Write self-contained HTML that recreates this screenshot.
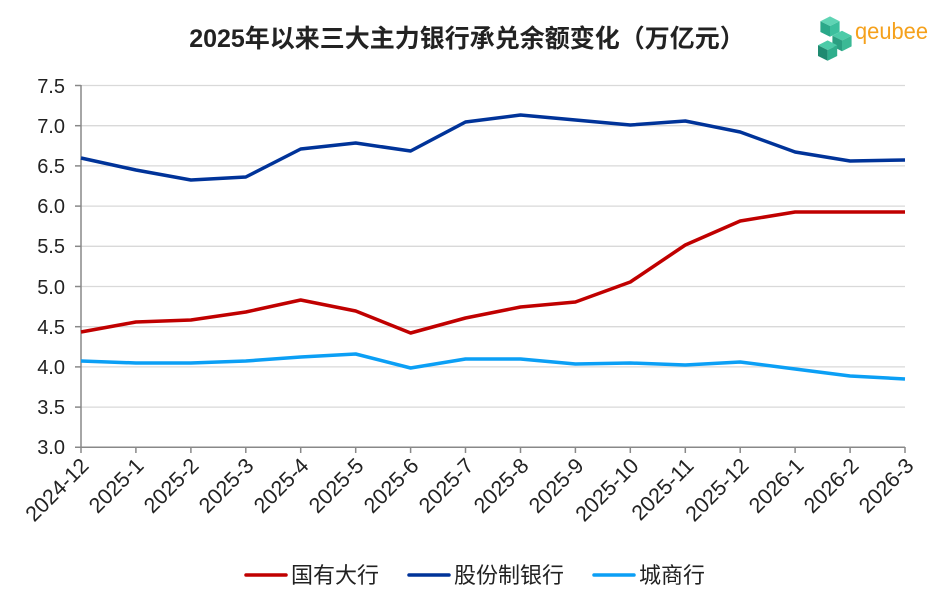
<!DOCTYPE html>
<html><head><meta charset="utf-8"><style>
body{margin:0;background:#fff}
svg text{font-family:"Liberation Sans","Noto Sans CJK SC",sans-serif}
</style></head><body>
<svg width="947" height="609" viewBox="0 0 947 609" xmlns="http://www.w3.org/2000/svg">
<rect width="947" height="609" fill="#fff"/>
<text x="467" y="47" text-anchor="middle" font-size="25" font-weight="bold" fill="#222">2025年以来三大主力银行承兑余额变化（万亿元）</text>
<g transform="translate(818,14) scale(1.2)">
<polygon points="10,2 18,6 10,10 2,6" fill="#5fd4b4"/>
<polygon points="2,6 10,10 10,19 2,15" fill="#2aa889"/>
<polygon points="18,6 10,10 10,19 18,15" fill="#3cbf9d"/>
<polygon points="20,14 28,18 20,22 12,18" fill="#4ccba8"/>
<polygon points="12,18 20,22 20,31 12,27" fill="#2a9f81"/>
<polygon points="28,18 20,22 20,31 28,27" fill="#3bb995"/>
<polygon points="8,22 16,26 8,30 0,26" fill="#4ccba8"/>
<polygon points="0,26 8,30 8,39 0,35" fill="#1f8a70"/>
<polygon points="16,26 8,30 8,39 16,35" fill="#2fae8c"/>
</g>
<text x="855" y="39" font-size="23" fill="#f5a11c" textLength="73" lengthAdjust="spacingAndGlyphs">qeubee</text>
<g stroke="#d9d9d9" stroke-width="1.3">
<line x1="81" x2="905" y1="85.5" y2="85.5"/><line x1="81" x2="905" y1="125.7" y2="125.7"/>
<line x1="81" x2="905" y1="165.9" y2="165.9"/><line x1="81" x2="905" y1="206.1" y2="206.1"/>
<line x1="81" x2="905" y1="246.3" y2="246.3"/><line x1="81" x2="905" y1="286.5" y2="286.5"/>
<line x1="81" x2="905" y1="326.7" y2="326.7"/><line x1="81" x2="905" y1="366.9" y2="366.9"/>
<line x1="81" x2="905" y1="407.1" y2="407.1"/>
</g>
<g stroke="#888" stroke-width="1.5">
<line x1="81" x2="81" y1="85" y2="447"/><line x1="75" x2="905" y1="447.3" y2="447.3"/>
<line x1="75" x2="81" y1="85.5" y2="85.5"/><line x1="75" x2="81" y1="125.7" y2="125.7"/><line x1="75" x2="81" y1="165.9" y2="165.9"/><line x1="75" x2="81" y1="206.1" y2="206.1"/><line x1="75" x2="81" y1="246.3" y2="246.3"/><line x1="75" x2="81" y1="286.5" y2="286.5"/><line x1="75" x2="81" y1="326.7" y2="326.7"/><line x1="75" x2="81" y1="366.9" y2="366.9"/><line x1="75" x2="81" y1="407.1" y2="407.1"/>
<path d="M81 447v6M135.9 447v6M190.9 447v6M245.8 447v6M300.7 447v6M355.7 447v6M410.6 447v6M465.5 447v6M520.5 447v6M575.4 447v6M630.3 447v6M685.3 447v6M740.2 447v6M795.1 447v6M850.1 447v6M905 447v6"/>
</g>
<g font-size="20" fill="#222" text-anchor="end">
<text x="65" y="93">7.5</text><text x="65" y="133">7.0</text><text x="65" y="173">6.5</text><text x="65" y="213">6.0</text><text x="65" y="253">5.5</text><text x="65" y="294">5.0</text><text x="65" y="334">4.5</text><text x="65" y="374">4.0</text><text x="65" y="414">3.5</text><text x="65" y="454">3.0</text>
</g>
<g font-size="21.5" fill="#222" text-anchor="end">
<text transform="translate(90,467) rotate(-45)">2024-12</text>
<text transform="translate(145,467) rotate(-45)">2025-1</text>
<text transform="translate(200,467) rotate(-45)">2025-2</text>
<text transform="translate(255,467) rotate(-45)">2025-3</text>
<text transform="translate(310,467) rotate(-45)">2025-4</text>
<text transform="translate(365,467) rotate(-45)">2025-5</text>
<text transform="translate(420,467) rotate(-45)">2025-6</text>
<text transform="translate(475,467) rotate(-45)">2025-7</text>
<text transform="translate(530,467) rotate(-45)">2025-8</text>
<text transform="translate(585,467) rotate(-45)">2025-9</text>
<text transform="translate(640,467) rotate(-45)">2025-10</text>
<text transform="translate(695,467) rotate(-45)">2025-11</text>
<text transform="translate(750,467) rotate(-45)">2025-12</text>
<text transform="translate(805,467) rotate(-45)">2026-1</text>
<text transform="translate(860,467) rotate(-45)">2026-2</text>
<text transform="translate(915,467) rotate(-45)">2026-3</text>
</g>
<g fill="none" stroke-width="3.5" stroke-linejoin="round">
<polyline stroke="#003399" points="81,158 135.9,170 190.9,180 245.8,177 300.7,149 355.7,143 410.6,151 465.5,122 520.5,115 575.4,120 630.3,125 685.3,121 740.2,132 795.1,152 850.1,161 905,160"/>
<polyline stroke="#c00000" points="81,332 135.9,322 190.9,320 245.8,312 300.7,300 355.7,311 410.6,333 465.5,318 520.5,307 575.4,302 630.3,282 685.3,245 740.2,221 795.1,212 850.1,212 905,212"/>
<polyline stroke="#0b9ff5" points="81,361 135.9,363 190.9,363 245.8,361 300.7,357 355.7,354 410.6,368 465.5,359 520.5,359 575.4,364 630.3,363 685.3,365 740.2,362 795.1,369 850.1,376 905,379"/>
</g>
<g stroke-width="3.5" stroke-linecap="round">
<line x1="246" x2="286" y1="575" y2="575" stroke="#c00000"/>
<line x1="409" x2="449" y1="575" y2="575" stroke="#003399"/>
<line x1="594" x2="634" y1="575" y2="575" stroke="#0b9ff5"/>
</g>
<g font-size="22" fill="#222">
<text x="291" y="583">国有大行</text><text x="454" y="583">股份制银行</text><text x="639" y="583">城商行</text>
</g>
</svg>
</body></html>
